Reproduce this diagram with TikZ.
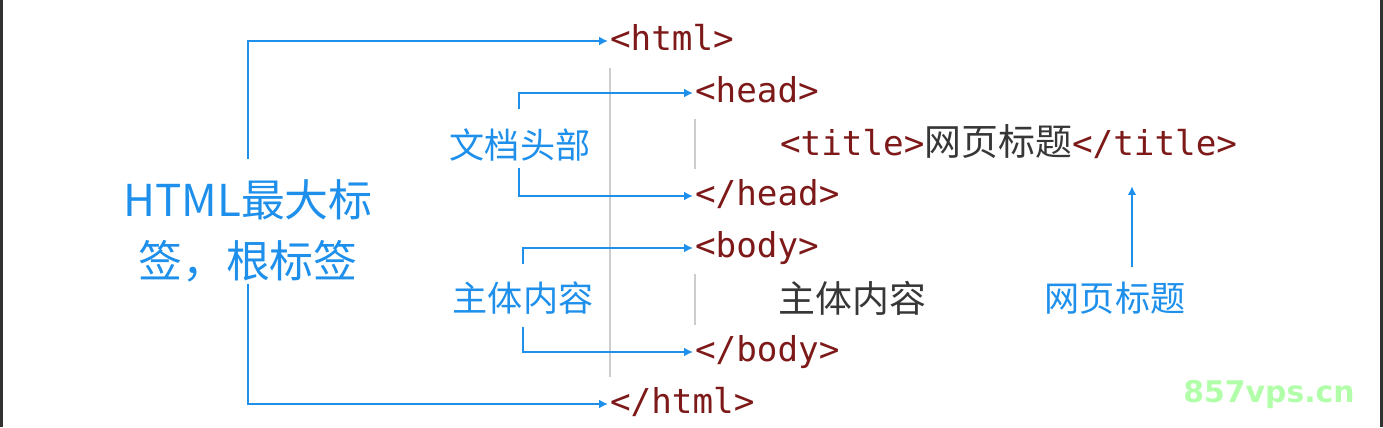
\documentclass[tikz,border=0pt]{standalone}
\usepackage{fontspec}
\setmonofont{DejaVu Sans Mono}
\newfontfamily\cjk{Noto Sans CJK SC}
\newfontfamily\wmfont{DejaVu Sans}
\usepackage{tikz}
\usetikzlibrary{arrows.meta}

\definecolor{tagred}{RGB}{125,25,25}
\definecolor{noteblue}{RGB}{30,144,235}
\definecolor{guidegray}{RGB}{205,205,205}
\definecolor{textgray}{RGB}{55,55,55}
\definecolor{wmgreen}{RGB}{178,255,170}
\definecolor{framedark}{RGB}{50,50,50}

\begin{document}
\begin{tikzpicture}[
    x=0.02cm, y=-0.02cm,
    tag/.style={font=\ttfamily\fontsize{19.5}{23}\selectfont, text=tagred, anchor=west, inner sep=0pt, inner xsep=1pt, text height=12pt, text depth=1.5pt},
    note/.style={font=\cjk\fontsize{20}{24}\selectfont, text=noteblue, inner sep=0pt},
    plain/.style={font=\cjk\fontsize{21}{24}\selectfont, text=textgray, anchor=west, inner sep=0pt},
    bracket/.style={draw=noteblue, line width=1.1pt, -{Latex[length=5pt,width=5pt]}},
    guide/.style={draw=guidegray, line width=1pt}
]
\useasboundingbox (0,0) rectangle (1383,427);
\fill[framedark] (0,0) rectangle (3,427);
\fill[framedark] (1380,0) rectangle (1383,427);

% code lines
\node[tag] (html) at (608,41) {<html>};
\node[tag] (head) at (693,93) {<head>};
\node[tag] (title) at (778,146) {<title>{\cjk\fontsize{21}{24}\selectfont\color{textgray}网页标题}</title>};
\node[tag] (headend) at (693,196) {</head>};
\node[tag] (body) at (693,248) {<body>};
\node[plain] (content) at (778,298) {主体内容};
\node[tag] (bodyend) at (693,352) {</body>};
\node[tag] (htmlend) at (608,404) {</html>};

% indent guides
\draw[guide] ([xshift=0.04cm,yshift=-0.3cm]html.south west) -- ([xshift=0.04cm,yshift=0.3cm]htmlend.north west);
\draw[guide] ([xshift=0.04cm,yshift=-0.28cm]head.south west) -- ([xshift=0.04cm,yshift=0.3cm]headend.north west);
\draw[guide] ([xshift=0.04cm,yshift=-0.28cm]body.south west) -- ([xshift=0.04cm,yshift=0.3cm]bodyend.north west);

% notes
\node[note, font=\cjk\fontsize{25}{35}\selectfont, align=center] (root) at (248,231) {HTML最大标\\签，根标签};
\node[note] (headnote) at (520,145) {文档头部};
\node[note] (bodynote) at (523,298) {主体内容};
\node[note] (titlenote) at (1115,298) {网页标题};

\draw[bracket] (root.north) ++(0,-20) |- (html.west);
\draw[bracket] (root.south) ++(0,1) |- (htmlend.west);
\draw[bracket] (headnote.north) ++(-1,-19) |- (head.west);
\draw[bracket] (headnote.south) ++(-1,6) |- (headend.west);
\draw[bracket] (bodynote.north) ++(0,-17) |- (body.west);
\draw[bracket] (bodynote.south) ++(0,12) |- (bodyend.west);
\draw[bracket, shorten >=0.56cm] (titlenote.north) ++(17,-14) coordinate (ptfoot) -- (title.south -| ptfoot);

% watermark
\node[font=\wmfont\bfseries\fontsize{17}{20}\selectfont, text=wmgreen, anchor=west, inner sep=0pt] (mark) at (1183,395) {857vps.cn};
\end{tikzpicture}
\end{document}
